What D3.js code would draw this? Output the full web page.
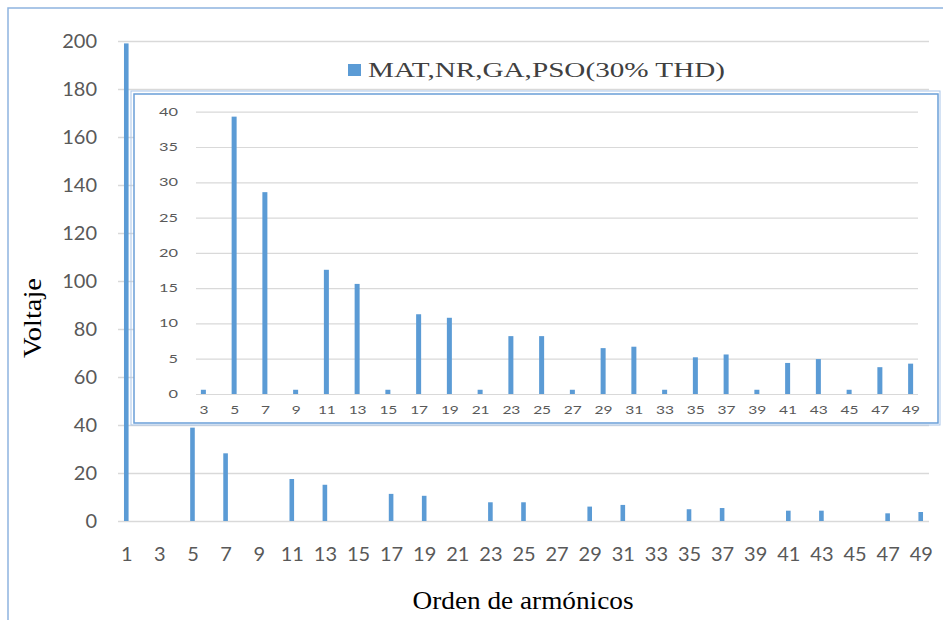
<!DOCTYPE html>
<html><head><meta charset="utf-8">
<script src="https://cdn.jsdelivr.net/npm/d3@7"></script>
<style>body{margin:0;background:#fff}svg{display:block}</style>
</head><body>
<svg id="c" width="943" height="620"></svg>
<script>
const mainCategories = ["1","3","5","7","9","11","13","15","17","19","21","23","25","27","29","31","33","35","37","39","41","43","45","47","49"];
const mainValues = [199,0,38.9,28.2,0,17.5,15.1,0,11.3,10.5,0,7.8,7.8,0,6.0,6.7,0,4.9,5.4,0,4.3,4.3,0,3.2,3.75];
const mainTicks = [0,20,40,60,80,100,120,140,160,180,200];
const insetCategories = ["3","5","7","9","11","13","15","17","19","21","23","25","27","29","31","33","35","37","39","41","43","45","47","49"];
const insetValues = [0.6,39.3,28.6,0.6,17.6,15.6,0.6,11.3,10.8,0.6,8.2,8.2,0.6,6.5,6.7,0.6,5.2,5.6,0.6,4.4,4.95,0.6,3.8,4.3];
const insetTicks = [0,5,10,15,20,25,30,35,40];
const seriesName = "MAT,NR,GA,PSO(30% THD)";
const xTitle = "Orden de armónicos";
const yTitle = "Voltaje";

const BAR = "#5b9bd5", GRID = "#d9d9d9", TXT = "#595959";
const svg = d3.select("#c");

// outer frame
svg.append("rect").attr("x",8).attr("y",8).attr("width",960).attr("height",640)
  .attr("fill","none").attr("stroke","#8fb4e0").attr("stroke-width",1.5);

// ---------- main chart ----------
const mL = 118, mR = 929, mT = 41, mB = 521;
const x = d3.scalePoint().domain(mainCategories).range([mL, mR]).padding(0.25);
const y = d3.scaleLinear().domain([0,200]).range([mB, mT]);

const gy = svg.append("g").attr("transform",`translate(${mL},0)`)
  .call(d3.axisLeft(y).tickValues(mainTicks).tickSize(-(mR-mL)).tickPadding(21));
gy.select(".domain").remove();
gy.selectAll(".tick line").attr("stroke",GRID).attr("stroke-width",1.5);
gy.selectAll(".tick text").attr("fill",TXT).style("font-family","Lato, 'Open Sans', sans-serif").style("font-size","20px");

const gx = svg.append("g").attr("transform",`translate(0,${mB})`)
  .call(d3.axisBottom(x).tickSize(0).tickPadding(26));
gx.select(".domain").remove();
gx.selectAll(".tick text").attr("fill",TXT).style("font-family","Lato, 'Open Sans', sans-serif").style("font-size","20px");

svg.append("g").selectAll("rect").data(mainCategories).join("rect")
  .attr("x", d => x(d) - 2.3).attr("width", 4.6)
  .attr("y", (d,i) => y(mainValues[i]))
  .attr("height", (d,i) => y(0) - y(mainValues[i]))
  .attr("fill", BAR);

// legend
svg.append("rect").attr("x",348).attr("y",64).attr("width",13).attr("height",12).attr("fill",BAR);
svg.append("text").attr("x",368).attr("y",77).text(seriesName)
  .attr("fill","#404040").style("font-family","'Liberation Serif','Times New Roman',serif").style("font-size","20px")
  .attr("textLength",357).attr("lengthAdjust","spacingAndGlyphs");

// axis titles
svg.append("text").attr("transform","translate(41,318) rotate(-90)").attr("text-anchor","middle")
  .text(yTitle).attr("fill","#000").style("font-family","'Liberation Serif','Times New Roman',serif").style("font-size","25px")
  .attr("textLength",80).attr("lengthAdjust","spacingAndGlyphs");
svg.append("text").attr("x",523).attr("y",609).attr("text-anchor","middle")
  .text(xTitle).attr("fill","#000").style("font-family","'Liberation Serif','Times New Roman',serif").style("font-size","25px")
  .attr("textLength",221).attr("lengthAdjust","spacingAndGlyphs");

// ---------- inset ----------
const iX = 134, iY = 94, iW = 804, iH = 329;
svg.append("rect").attr("x",iX-3).attr("y",iY-3).attr("width",iW+5).attr("height",iH+5)
  .attr("fill","none").attr("stroke","#a9c6ea").attr("stroke-width",1);
svg.append("rect").attr("x",iX).attr("y",iY).attr("width",iW).attr("height",iH)
  .attr("fill","#fff").attr("stroke","#6a9fd8").attr("stroke-width",1.5);

const iL = 196, iR = 918, iT = 111.7, iB = 394;
const xi = d3.scalePoint().domain(insetCategories).range([iL, iR]).padding(0.24);
const yi = d3.scaleLinear().domain([0,40]).range([iB, iT]);

const giy = svg.append("g").attr("transform",`translate(${iL},0)`)
  .call(d3.axisLeft(yi).tickValues(insetTicks).tickSize(-(iR-iL)).tickPadding(18));
giy.select(".domain").remove();
giy.selectAll(".tick line").attr("stroke",GRID).attr("stroke-width",1.2);
giy.selectAll(".tick text").attr("fill",TXT).style("font-family","Lato, 'Open Sans', sans-serif").style("font-size","11px")
  .attr("textLength", d => String(d).length*9.5).attr("lengthAdjust","spacingAndGlyphs");

const gix = svg.append("g").attr("transform",`translate(0,${iB})`)
  .call(d3.axisBottom(xi).tickSize(0).tickPadding(12));
gix.select(".domain").remove();
gix.selectAll(".tick text").attr("fill",TXT).style("font-family","Lato, 'Open Sans', sans-serif").style("font-size","11px")
  .attr("textLength", d => String(d).length*9).attr("lengthAdjust","spacingAndGlyphs");

svg.append("g").selectAll("rect").data(insetCategories).join("rect")
  .attr("x", d => xi(d) - 2.5).attr("width", 5)
  .attr("y", (d,i) => yi(insetValues[i]))
  .attr("height", (d,i) => yi(0) - yi(insetValues[i]))
  .attr("fill", BAR);
</script>
</body></html>
